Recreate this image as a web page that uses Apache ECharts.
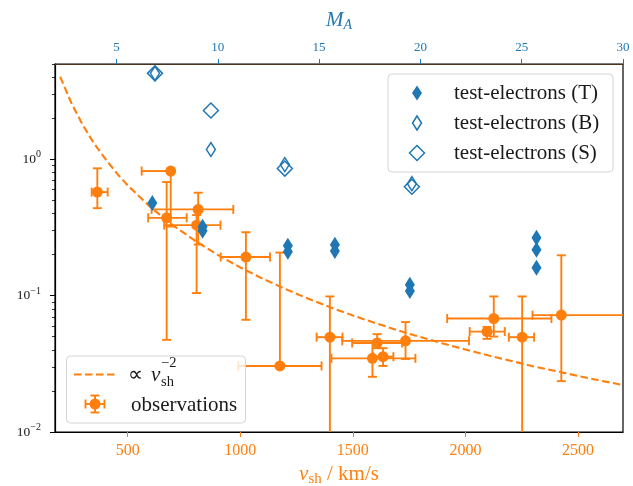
<!DOCTYPE html>
<html><head><meta charset="utf-8">
<script src="https://cdn.jsdelivr.net/npm/echarts@6/dist/echarts.min.js"></script>
<style>html,body{margin:0;padding:0;background:#fff}#c{width:633px;height:486px}</style>
</head><body><div id="c"></div>
<script>
// ---- data ----
const xTicksV = [500, 1000, 1500, 2000, 2500];
const xTicksM = [5, 10, 15, 20, 25, 30];
const yTicks = [0.01, 0.1, 1];
const yMinorTicks = [0.02,0.03,0.04,0.05,0.06,0.07,0.08,0.09,0.2,0.3,0.4,0.5,0.6,0.7,0.8,0.9,2,3,4,5];

// observations (v_sh in km/s)
const obsV   = [365, 691, 673, 813, 806, 1025, 1176, 1398, 1608, 1734, 1587, 1634, 2126, 2096, 2252, 2426];
const obsVlo = [340, 562, 591, 606, 662, 913, 991, 1339, 1497, 1453, 1405, 1590, 1919, 2019, 2193, 2298];
const obsVhi = [411, 691, 762, 969, 912, 1132, 1361, 1454, 1719, 2016, 1778, 1680, 2382, 2175, 2305, 2800];
const obsY   = [0.575, 0.820, 0.372, 0.429, 0.329, 0.192, 0.0305, 0.0496, 0.045, 0.0466, 0.0347, 0.0357, 0.068, 0.0545, 0.0496, 0.072];
const obsYlo = [0.438, 0.321, 0.0474, 0.237, 0.1045, 0.0665, 0.0305, 0.001, 0.0412, 0.0343, 0.0254, 0.0305, 0.0501, 0.0482, 0.001, 0.0236];
const obsYhi = [0.859, 0.820, 0.681, 0.569, 0.39, 0.292, 0.207, 0.0987, 0.0522, 0.064, 0.045, 0.0412, 0.0987, 0.059, 0.0987, 0.1977];

// test-electrons (M_A on top axis)
const tT_M = [6.77, 9.25, 9.25, 13.46, 13.46, 15.78, 15.78, 19.48, 19.48, 25.73, 25.73, 25.73];
const tT_Y = [0.478, 0.320, 0.299, 0.232, 0.2096, 0.236, 0.213, 0.120, 0.108, 0.266, 0.217, 0.160];
const tB_M = [6.90, 9.66, 13.31, 19.58];
const tB_Y = [4.27, 1.18, 0.915, 0.663];
const tS_M = [6.90, 9.66, 13.31, 19.58];
const tS_Y = [4.27, 2.28, 0.855, 0.63];

// dashed reference curve
const curveV = [200, 250, 300, 350, 400, 450, 500, 600, 700, 800, 900, 1000, 1100, 1200, 1300, 1400, 1500, 1600, 1700, 1800, 1900, 2000, 2100, 2200, 2300, 2400, 2500, 2600, 2700];
const curveY = [4.03, 2.58, 1.79, 1.31, 1.01, 0.795, 0.644, 0.447, 0.329, 0.252, 0.199, 0.161, 0.133, 0.112, 0.0953, 0.0821, 0.0716, 0.0629, 0.0557, 0.0497, 0.0446, 0.0403, 0.0365, 0.0333, 0.0304, 0.0280, 0.0258, 0.0238, 0.0221];

// ---- chart ----
const ORANGE = '#ff7f0e', BLUE = '#1f77b4', INK = '#1a1a1a';
const SERIF = 'Liberation Serif';
const zip = (a, b) => a.map((v, i) => [v, b[i]]);

const obsErr = obsV.map((v, i) => [v, obsY[i], obsVlo[i], obsVhi[i], obsYlo[i], obsYhi[i]]);

function errRender(params, api) {
  const x = api.value(0), y = api.value(1);
  const c = api.coord([x, y]);
  const pl = api.coord([api.value(2), y]), ph = api.coord([api.value(3), y]);
  const pb = api.coord([x, api.value(4)]), pt = api.coord([x, api.value(5)]);
  const cap = 4.5;
  const st = { stroke: ORANGE, lineWidth: 1.9, fill: null };
  const L = (x1, y1, x2, y2) => ({ type: 'line', shape: { x1, y1, x2, y2 }, style: st });
  return {
    type: 'group',
    children: [
      L(pl[0], c[1], ph[0], c[1]),
      L(c[0], pt[1], c[0], pb[1]),
      L(pl[0], c[1] - cap, pl[0], c[1] + cap),
      L(ph[0], c[1] - cap, ph[0], c[1] + cap),
      L(c[0] - cap, pt[1], c[0] + cap, pt[1]),
      L(c[0] - cap, pb[1], c[0] + cap, pb[1])
    ]
  };
}

const supFmt = v => {
  const e = Math.round(Math.log10(v));
  return '{b|10}{s|' + (e < 0 ? '\u2212' + (-e) : e) + '}';
};
const plainFmt = v => String(v);
const F = (size, italic) => (italic ? 'italic ' : '') + size + 'px ' + SERIF;

const option = {
  animation: false,
  backgroundColor: '#fff',
  textStyle: { fontFamily: SERIF },
  grid: { left: 55, right: 10, top: 64, bottom: 54, outerBoundsMode: 'none', containLabel: false,
          show: true, borderColor: '#000', borderWidth: 1.2, backgroundColor: 'transparent' },
  xAxis: [
    {
      type: 'value', min: 177, max: 2700, position: 'bottom',
      name: '{v|v}{sub|sh}{t| / km/s}', nameLocation: 'middle', nameGap: 30,
      nameTextStyle: { color: ORANGE, fontFamily: SERIF, rich: {
        v: { fontFamily: SERIF, fontStyle: 'italic', fontSize: 21, color: ORANGE },
        sub: { fontFamily: SERIF, fontSize: 15, color: ORANGE, padding: [10, 0, 0, 0] },
        t: { fontFamily: SERIF, fontSize: 21, color: ORANGE }
      } },
      axisLine: { show: true, lineStyle: { color: '#000', width: 1.2 } },
      axisTick: { show: true, length: 5, customValues: xTicksV, lineStyle: { color: ORANGE } },
      axisLabel: { customValues: xTicksV, formatter: plainFmt, color: ORANGE, fontFamily: SERIF, fontSize: 16, margin: 11 },
      splitLine: { show: false }
    },
    {
      type: 'value', min: 177 / 90, max: 30, position: 'top',
      name: '{m|M}{sub|A}', nameLocation: 'middle', nameGap: 32,
      nameTextStyle: { color: BLUE, fontFamily: SERIF, rich: {
        m: { fontFamily: SERIF, fontStyle: 'italic', fontSize: 21, color: BLUE },
        sub: { fontFamily: SERIF, fontStyle: 'italic', fontSize: 14, color: BLUE, padding: [10, 0, 0, 0] }
      } },
      axisLine: { show: true, lineStyle: { color: '#4a3321', width: 1.2 } },
      axisTick: { show: true, length: 5, customValues: xTicksM, lineStyle: { color: BLUE } },
      axisLabel: { customValues: xTicksM, formatter: plainFmt, color: BLUE, fontFamily: SERIF, fontSize: 13, margin: 10 },
      splitLine: { show: false }
    }
  ],
  yAxis: [
    {
      type: 'log', logBase: 10, min: 0.01, max: 5, position: 'left',
      axisLine: { show: true, lineStyle: { color: '#000', width: 1.2 } },
      axisTick: { show: true, length: 5, customValues: yTicks, lineStyle: { color: '#000' } },
      axisLabel: { customValues: yTicks, formatter: supFmt, margin: 14, rich: {
        b: { fontFamily: SERIF, fontSize: 13.5, color: INK },
        s: { fontFamily: SERIF, fontSize: 10, color: INK, padding: [0, 0, 9, 0] }
      } },
      splitLine: { show: false }
    },
    {
      type: 'log', logBase: 10, min: 0.01, max: 5, position: 'left',
      axisLine: { show: false },
      axisTick: { show: true, length: 3, customValues: yMinorTicks, lineStyle: { color: '#000', width: 0.8 } },
      axisLabel: { show: false },
      splitLine: { show: false }
    }
  ],
  series: [
    {
      name: 'curve', type: 'line', xAxisIndex: 0, yAxisIndex: 0, data: zip(curveV, curveY),
      symbol: 'none', smooth: false, z: 2,
      lineStyle: { color: ORANGE, width: 2.1, type: [7.5, 3.5] }
    },
    {
      name: 'obsErr', type: 'custom', xAxisIndex: 0, yAxisIndex: 0, data: obsErr,
      renderItem: errRender, clip: true, z: 3,
      encode: { x: 0, y: 1 }
    },
    {
      name: 'observations', type: 'scatter', xAxisIndex: 0, yAxisIndex: 0, data: zip(obsV, obsY),
      symbol: 'circle', symbolSize: 11, z: 4, itemStyle: { color: ORANGE, opacity: 1 }
    },
    {
      name: 'test-electrons (T)', type: 'scatter', xAxisIndex: 1, yAxisIndex: 0, data: zip(tT_M, tT_Y),
      symbol: 'diamond', symbolSize: [10, 16], z: 5, itemStyle: { color: BLUE, opacity: 1 }
    },
    {
      name: 'test-electrons (B)', type: 'scatter', xAxisIndex: 1, yAxisIndex: 0, data: zip(tB_M, tB_Y),
      symbol: 'diamond', symbolSize: [9, 14], z: 6,
      itemStyle: { color: 'rgba(0,0,0,0)', borderColor: BLUE, borderWidth: 1.5, opacity: 1 }
    },
    {
      name: 'test-electrons (S)', type: 'scatter', xAxisIndex: 1, yAxisIndex: 0, data: zip(tS_M, tS_Y),
      symbol: 'diamond', symbolSize: [15, 15], z: 6,
      itemStyle: { color: 'rgba(0,0,0,0)', borderColor: BLUE, borderWidth: 1.5, opacity: 1 }
    }
  ],
  graphic: [
    // top-right legend
    { type: 'rect', z: 100, shape: { x: 388, y: 74, width: 225, height: 98, r: 4 },
      style: { fill: 'rgba(255,255,255,0.8)', stroke: '#d4d4d4', lineWidth: 1 } },
    { type: 'polygon', z: 101, shape: { points: [[417, 85.5], [422, 93], [417, 100.5], [412, 93]] }, style: { fill: BLUE } },
    { type: 'polygon', z: 101, shape: { points: [[417, 116], [421.5, 123], [417, 130], [412.5, 123]] }, style: { fill: 'none', stroke: BLUE, lineWidth: 1.5 } },
    { type: 'polygon', z: 101, shape: { points: [[417, 145.5], [424.5, 153], [417, 160.5], [409.5, 153]] }, style: { fill: 'none', stroke: BLUE, lineWidth: 1.5 } },
    { type: 'text', z: 101, x: 454, y: 93, style: { text: 'test-electrons (T)', font: F(21), fill: INK, verticalAlign: 'middle' } },
    { type: 'text', z: 101, x: 454, y: 123, style: { text: 'test-electrons (B)', font: F(21), fill: INK, verticalAlign: 'middle' } },
    { type: 'text', z: 101, x: 454, y: 153, style: { text: 'test-electrons (S)', font: F(21), fill: INK, verticalAlign: 'middle' } },
    // bottom-left legend
    { type: 'rect', z: 100, shape: { x: 66.5, y: 356, width: 179, height: 67, r: 4 },
      style: { fill: 'rgba(255,255,255,0.8)', stroke: '#d4d4d4', lineWidth: 1 } },
    { type: 'line', z: 101, shape: { x1: 74, y1: 374.5, x2: 115, y2: 374.5 }, style: { stroke: ORANGE, lineWidth: 2, lineDash: [7.5, 3.5] } },
    { type: 'text', z: 101, x: 128, y: 375, style: { text: '\u221D', font: F(21), fill: INK, verticalAlign: 'middle' } },
    { type: 'text', z: 101, x: 151, y: 375, style: { text: 'v', font: F(21, true), fill: INK, verticalAlign: 'middle' } },
    { type: 'text', z: 101, x: 161, y: 363, style: { text: '\u22122', font: F(14.5), fill: INK, verticalAlign: 'middle' } },
    { type: 'text', z: 101, x: 161, y: 382, style: { text: 'sh', font: F(14.5), fill: INK, verticalAlign: 'middle' } },
    { type: 'line', z: 101, shape: { x1: 85.5, y1: 404, x2: 104.5, y2: 404 }, style: { stroke: ORANGE, lineWidth: 1.9 } },
    { type: 'line', z: 101, shape: { x1: 95, y1: 395.5, x2: 95, y2: 412.5 }, style: { stroke: ORANGE, lineWidth: 1.9 } },
    { type: 'line', z: 101, shape: { x1: 85.5, y1: 399.5, x2: 85.5, y2: 408.5 }, style: { stroke: ORANGE, lineWidth: 1.9 } },
    { type: 'line', z: 101, shape: { x1: 104.5, y1: 399.5, x2: 104.5, y2: 408.5 }, style: { stroke: ORANGE, lineWidth: 1.9 } },
    { type: 'line', z: 101, shape: { x1: 90.5, y1: 395.5, x2: 99.5, y2: 395.5 }, style: { stroke: ORANGE, lineWidth: 1.9 } },
    { type: 'line', z: 101, shape: { x1: 90.5, y1: 412.5, x2: 99.5, y2: 412.5 }, style: { stroke: ORANGE, lineWidth: 1.9 } },
    { type: 'circle', z: 102, shape: { cx: 95, cy: 404, r: 5.5 }, style: { fill: ORANGE } },
    { type: 'text', z: 101, x: 131, y: 405, style: { text: 'observations', font: F(21), fill: INK, verticalAlign: 'middle' } }
  ]
};

const chart = echarts.init(document.getElementById('c'));
chart.setOption(option);
</script>
</body></html>
